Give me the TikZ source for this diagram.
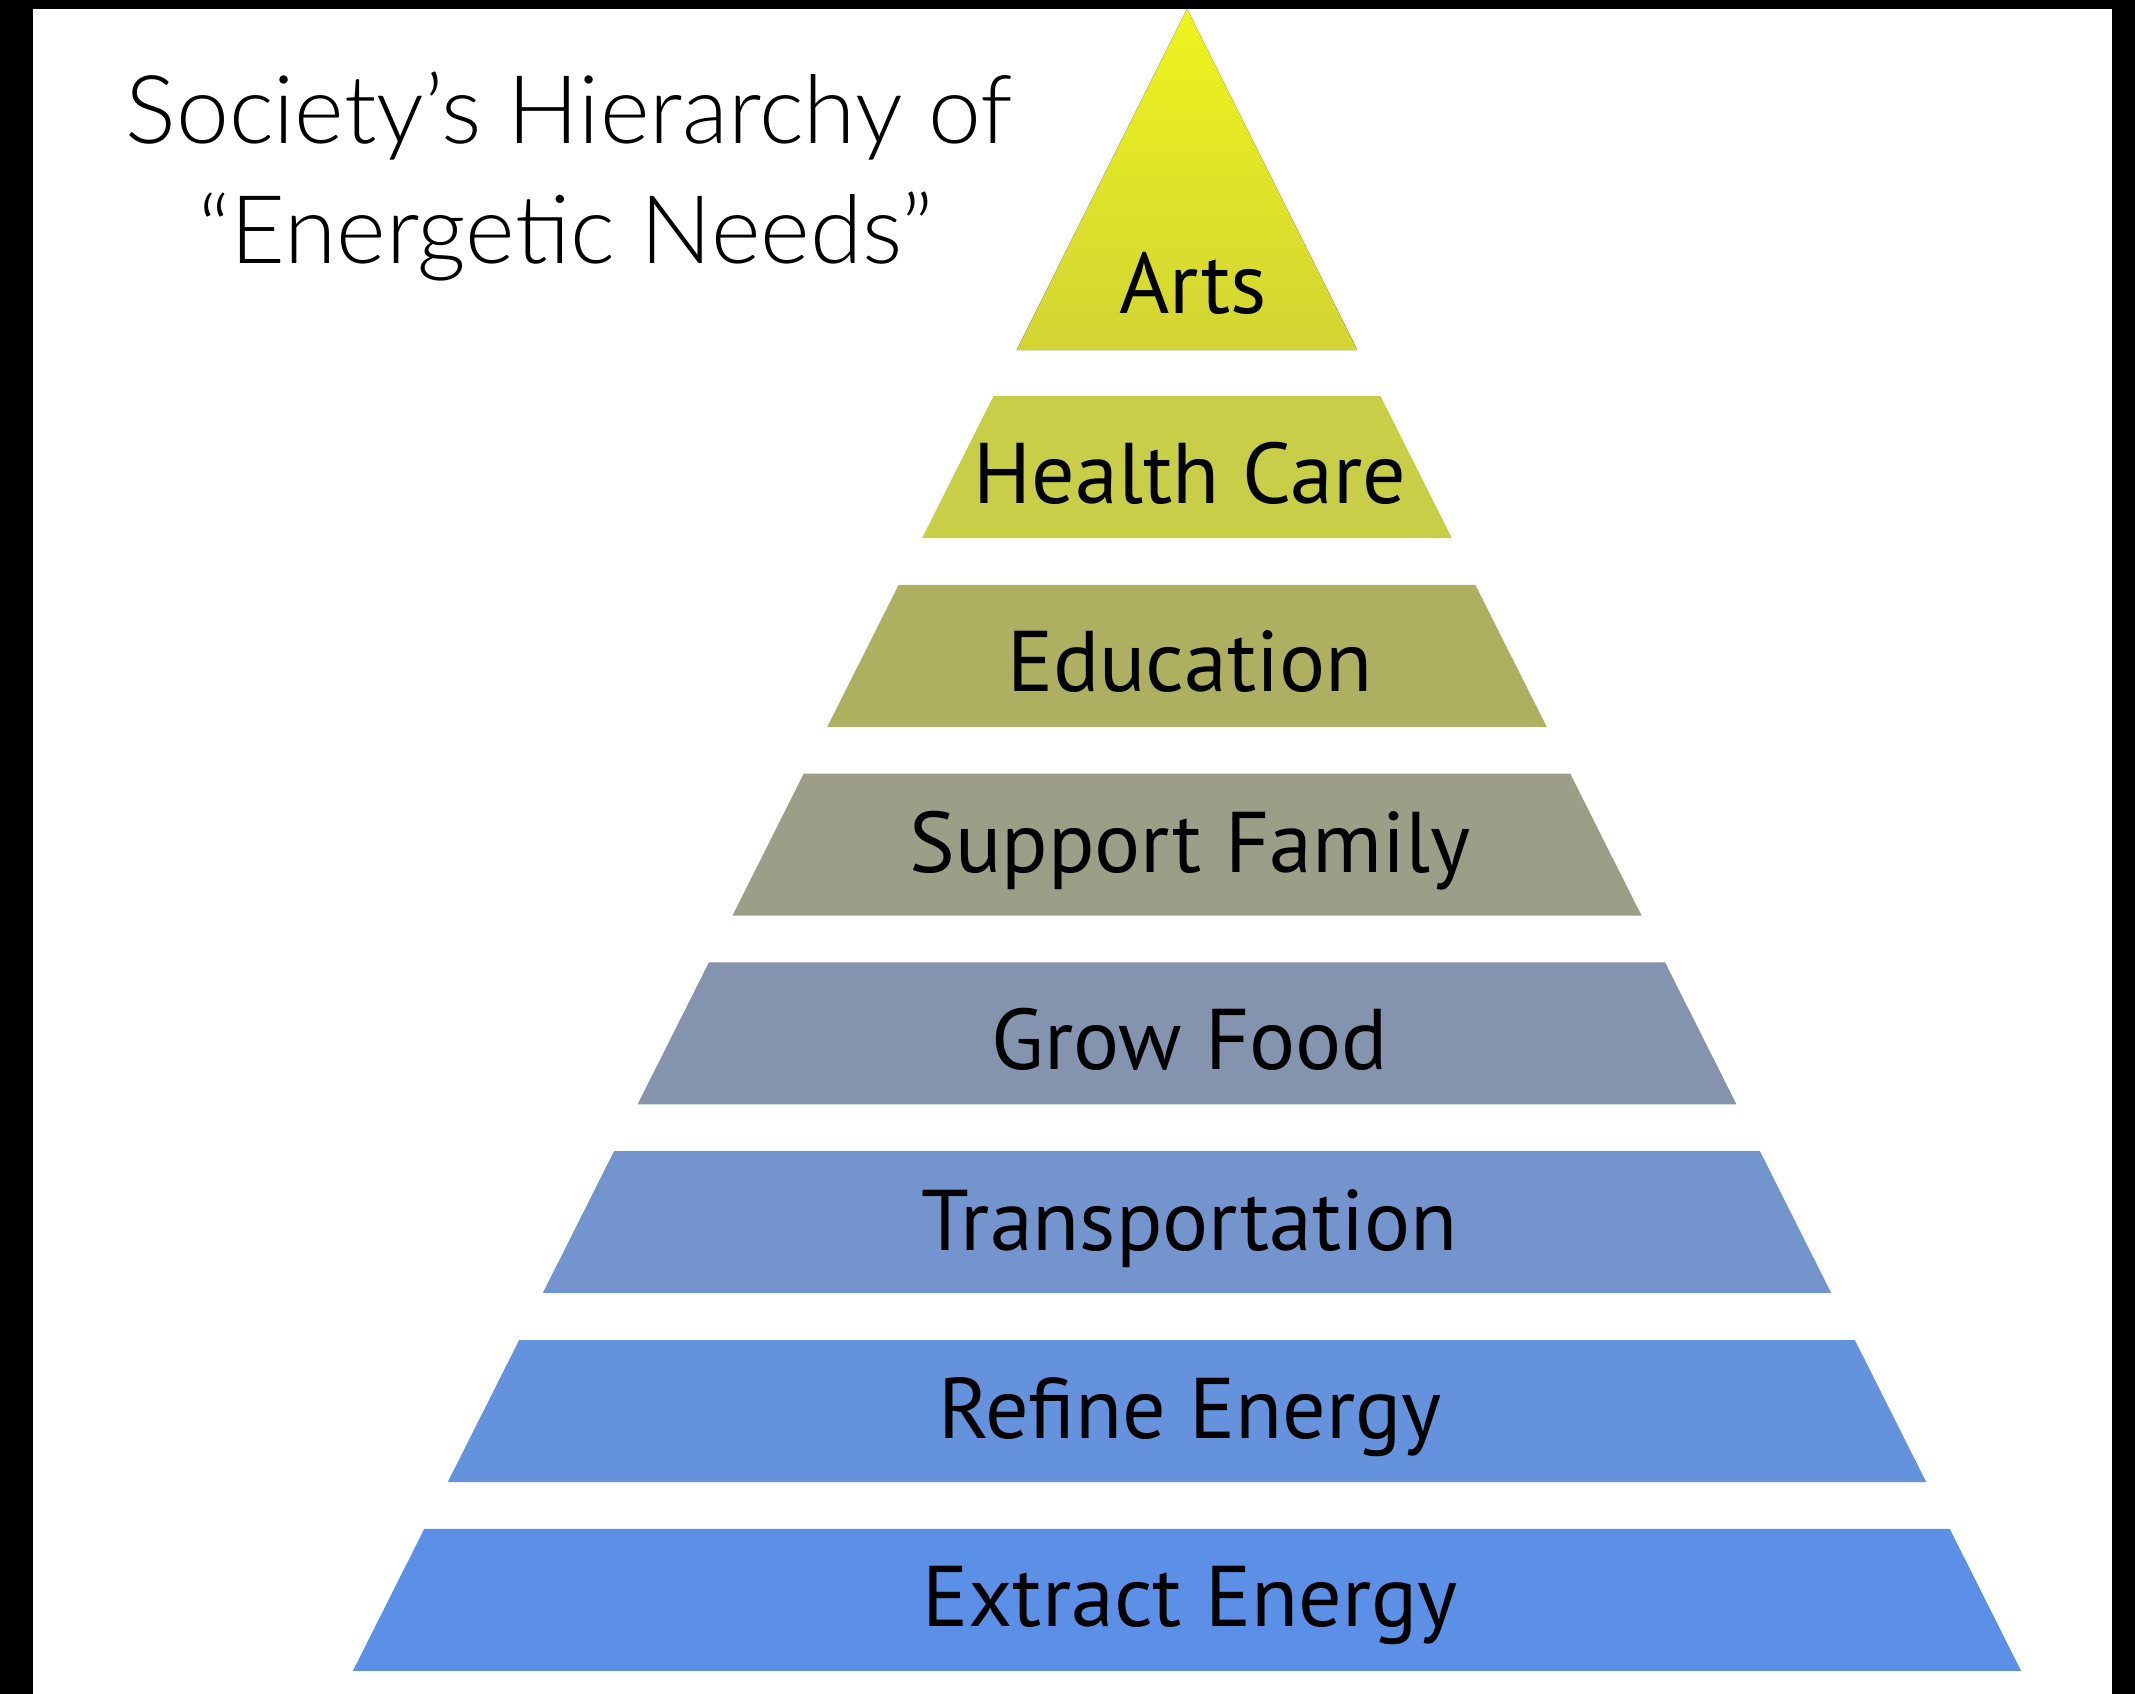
\documentclass[tikz,border=0pt]{standalone}
\usepackage{fontspec}
\setmainfont{PT Sans}
\newfontfamily\titlefont{Lato Light}
\usetikzlibrary{calc}

\definecolor{artstop}{RGB}{238,244,28}
\definecolor{artsbot}{RGB}{210,212,52}
\definecolor{colHealth}{RGB}{200,206,72}
\definecolor{colEduc}{RGB}{172,176,96}
\definecolor{colFamily}{RGB}{156,158,136}
\definecolor{colFood}{RGB}{132,148,174}
\definecolor{colTransp}{RGB}{115,148,204}
\definecolor{colRefine}{RGB}{101,146,221}
\definecolor{colExtract}{RGB}{92,143,230}

\tikzset{
  bandlabel/.style={inner sep=0pt, text=black, font=\fontsize{24.5}{24.5}\selectfont},
  titletext/.style={inner sep=0pt, anchor=base, text=black, font=\titlefont\fontsize{27}{27}\selectfont}
}

\def\apexx{11.87}
\def\slope{0.5025}

\begin{document}
\begin{tikzpicture}[x=1cm,y=-1cm]
  % frame
  \fill[black] (0,0) rectangle (21.35,16.94);
  \fill[white] (0.33,0.09) rectangle (21.12,16.94);
  \useasboundingbox (0,0) rectangle (21.35,16.94);

  % top triangle
  \coordinate (apex) at (\apexx,0.09);
  \fill[top color=artstop, bottom color=artsbot]
    (apex) -- ({\apexx+\slope*3.39},3.50) -- ({\apexx-\slope*3.39},3.50) -- cycle;
  \node[bandlabel] (arts) at (\apexx+0.06,2.83) {Arts};

  % lower bands
  \foreach \lab/\col [count=\i] in {Health Care/colHealth, Education/colEduc,
      Support Family/colFamily, Grow Food/colFood, Transportation/colTransp,
      Refine Energy/colRefine, Extract Energy/colExtract} {
    \pgfmathsetmacro\yt{3.96+(\i-1)*1.888}
    \pgfmathsetmacro\yb{\yt+1.42}
    \pgfmathsetmacro\wt{\slope*(\yt-0.11)}
    \pgfmathsetmacro\wb{\slope*(\yb-0.11)}
    \fill[\col] ({\apexx-\wt},\yt) -- ({\apexx+\wt},\yt)
      -- ({\apexx+\wb},\yb) -- ({\apexx-\wb},\yb) -- cycle;
    \node[bandlabel] (band\i) at (\apexx+0.03,{(\yt+\yb)/2+0.06}) {\lab};
  }

  % title
  \node[titletext] (title1) at (5.69,1.43) {Society’s Hierarchy of};
  \node[titletext] (title2) at (5.66,2.63) {“Energetic Needs”};
\end{tikzpicture}
\end{document}
